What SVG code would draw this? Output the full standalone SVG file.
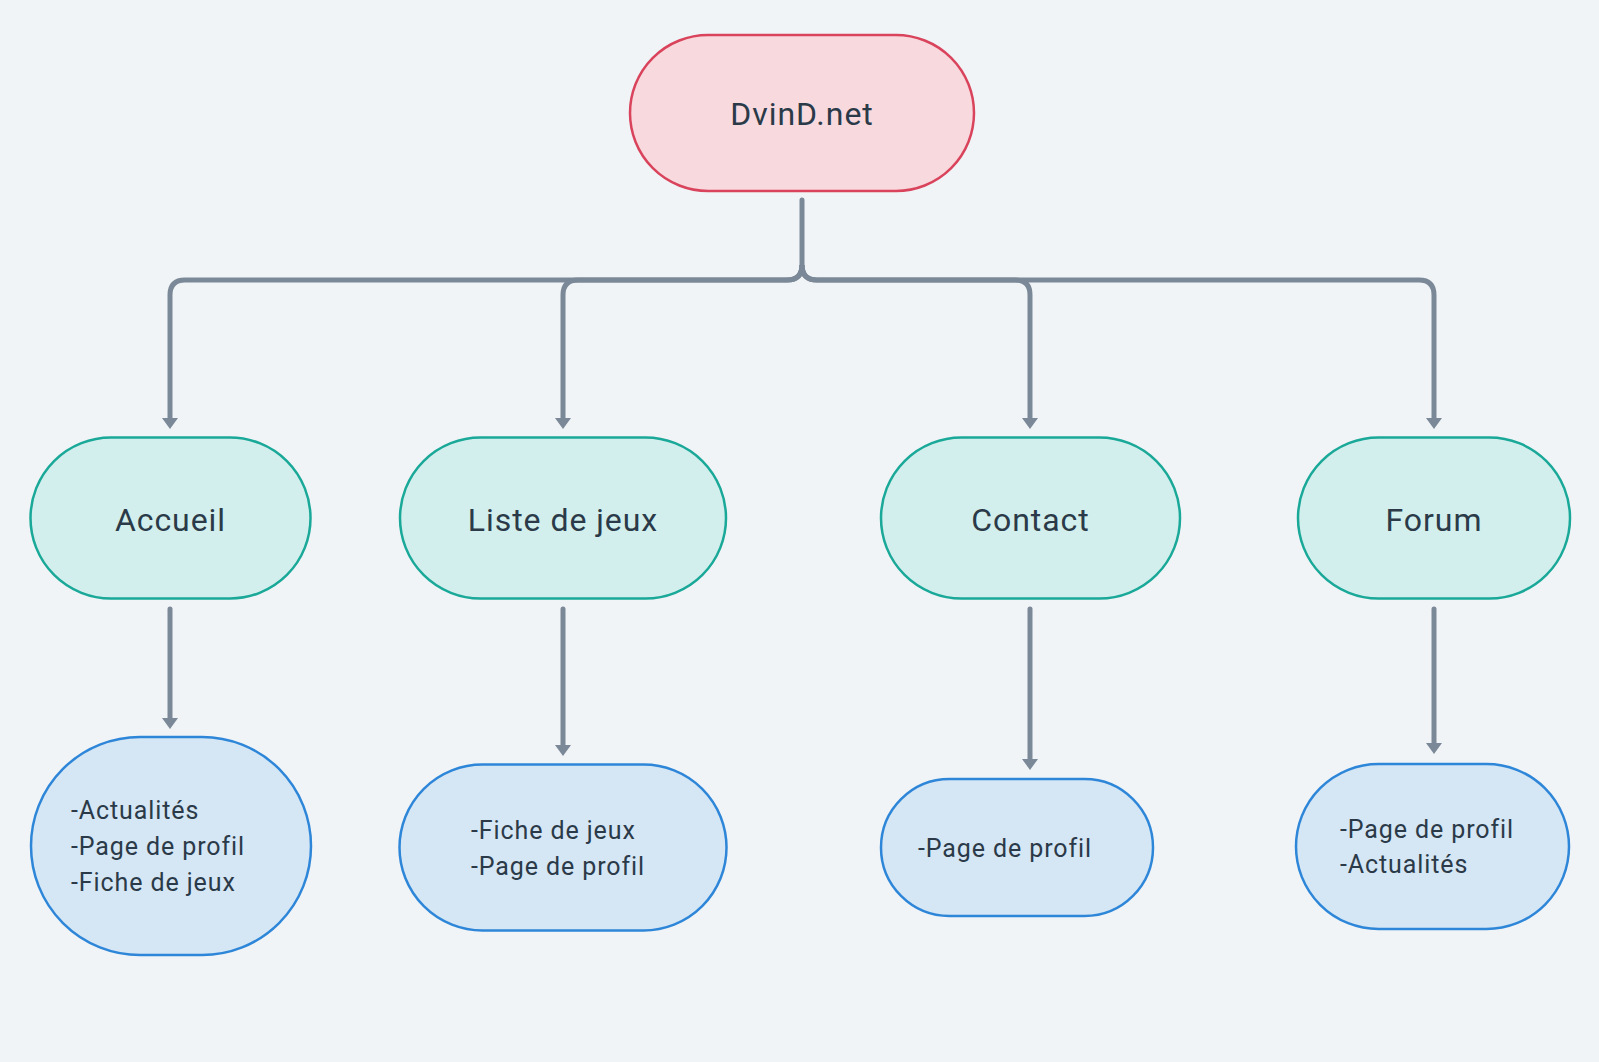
<svg xmlns="http://www.w3.org/2000/svg" width="1599" height="1062" viewBox="0 0 1599 1062">
<style>
.bg{fill:#f0f4f7}
.root{fill:#f8d9de;stroke:#d9435b;stroke-width:2.5}
.mid{fill:#d2efed;stroke:#1aa898;stroke-width:2.5}
.sub{fill:#d5e6f5;stroke:#2e86d8;stroke-width:2.5}
.lbl{font-family:Roboto,"Liberation Sans",sans-serif;font-size:32px;fill:#2b3a48;text-anchor:middle;letter-spacing:0.95px}
.txt{font-family:Roboto,"Liberation Sans",sans-serif;font-size:25px;fill:#2b3a48;letter-spacing:0.9px}
.con{fill:none;stroke:#7b8897;stroke-width:5;stroke-linejoin:round}
</style>
<defs>
<marker id="ah" markerUnits="userSpaceOnUse" markerWidth="11" markerHeight="16" viewBox="0 0 11 16" refX="0" refY="8" orient="auto">
<path d="M0,0 L11,8 L0,16 z" fill="#7b8897"/>
</marker>
</defs>
<rect class="bg" x="0" y="0" width="1599" height="1062"/>
<g id="connectors">
<path class="con" stroke-linecap="round" d="M802,200 V265 Q802,280 787,280 H185 Q170,280 170,295 V418" marker-end="url(#ah)"/>
<path class="con" d="M802,265 Q802,280 787,280 H578 Q563,280 563,295 V418" marker-end="url(#ah)"/>
<path class="con" d="M802,265 Q802,280 817,280 H1015 Q1030,280 1030,295 V418" marker-end="url(#ah)"/>
<path class="con" d="M802,265 Q802,280 817,280 H1419 Q1434,280 1434,295 V418" marker-end="url(#ah)"/>
<path class="con" stroke-linecap="round" d="M170,609 V718" marker-end="url(#ah)"/>
<path class="con" stroke-linecap="round" d="M563,609 V745" marker-end="url(#ah)"/>
<path class="con" stroke-linecap="round" d="M1030,609 V759" marker-end="url(#ah)"/>
<path class="con" stroke-linecap="round" d="M1434,609 V743" marker-end="url(#ah)"/>
</g>
<g id="root">
<rect class="root" x="630" y="35" width="344" height="156" rx="78"/>
<text class="lbl" x="802" y="125">DvinD.net</text>
</g>
<g id="accueil">
<rect class="mid" x="30.5" y="437.5" width="280" height="161" rx="80.5"/>
<text class="lbl" x="170.5" y="531">Accueil</text>
</g>
<g id="liste">
<rect class="mid" x="400" y="437.5" width="326" height="161" rx="80.5"/>
<text class="lbl" x="563" y="531">Liste de jeux</text>
</g>
<g id="contact">
<rect class="mid" x="881" y="437.5" width="299" height="161" rx="80.5"/>
<text class="lbl" x="1030.5" y="531">Contact</text>
</g>
<g id="forum">
<rect class="mid" x="1298" y="437.5" width="272" height="161" rx="80.5"/>
<text class="lbl" x="1434" y="531">Forum</text>
</g>
<g id="accueil-sub">
<rect class="sub" x="31" y="737" width="280" height="218" rx="109"/>
<text class="txt" x="71" y="819">-Actualités</text>
<text class="txt" x="71" y="855">-Page de profil</text>
<text class="txt" x="71" y="891">-Fiche de jeux</text>
</g>
<g id="liste-sub">
<rect class="sub" x="399.5" y="764.5" width="327" height="166" rx="83"/>
<text class="txt" x="471" y="839">-Fiche de jeux</text>
<text class="txt" x="471" y="875">-Page de profil</text>
</g>
<g id="contact-sub">
<rect class="sub" x="881" y="779" width="272" height="137" rx="68.5"/>
<text class="txt" x="918" y="857">-Page de profil</text>
</g>
<g id="forum-sub">
<rect class="sub" x="1296" y="764" width="273" height="165" rx="82.5"/>
<text class="txt" x="1340" y="838">-Page de profil</text>
<text class="txt" x="1340" y="873">-Actualités</text>
</g>
</svg>
